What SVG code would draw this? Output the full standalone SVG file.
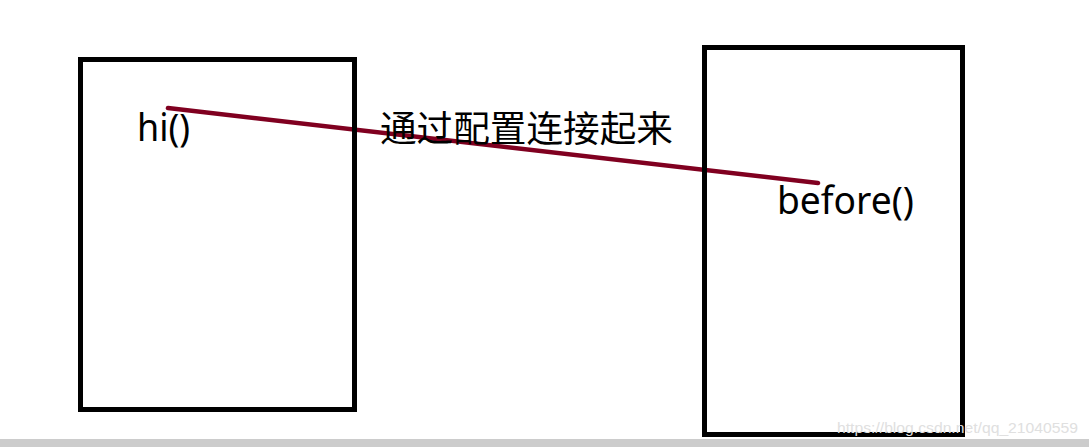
<svg xmlns="http://www.w3.org/2000/svg" width="1089" height="447" viewBox="0 0 1089 447">
  <style>
    .box { fill: none; stroke: #000; stroke-width: 5; }
    .lbl { font-family: "Noto Sans", "Noto Sans CJK SC", sans-serif; font-size: 38px; fill: #000; }
    .cjk { font-family: "Noto Sans CJK SC", "Noto Sans", sans-serif; font-size: 36px; fill: #000; }
    .wm { font-family: "Liberation Sans", Arial, sans-serif; font-size: 15px; fill: #e0e0e0; }
  </style>
  <rect x="0" y="0" width="1089" height="447" fill="#fff"/>
  <rect x="0" y="439" width="1089" height="8" fill="#cccccc"/>
  <g id="connectors">
    <line x1="168" y1="108" x2="818" y2="183" stroke="#800020" stroke-width="4.5" stroke-linecap="round"/>
  </g>
  <g id="node-left">
    <rect class="box" x="80.5" y="59.5" width="274" height="350"/>
    <text class="lbl" x="137" y="141" textLength="53" lengthAdjust="spacingAndGlyphs">hi()</text>
  </g>
  <g id="node-right">
    <rect class="box" x="704.5" y="47.5" width="258" height="387"/>
    <text class="lbl" x="777" y="214" textLength="137" lengthAdjust="spacingAndGlyphs">before()</text>
  </g>
  <g id="label">
    <text class="cjk" x="380" y="142" textLength="293" lengthAdjust="spacingAndGlyphs">通过配置连接起来</text>
  </g>
  <text class="wm" x="837" y="433" textLength="241" lengthAdjust="spacingAndGlyphs">https://blog.csdn.net/qq_21040559</text>
</svg>
